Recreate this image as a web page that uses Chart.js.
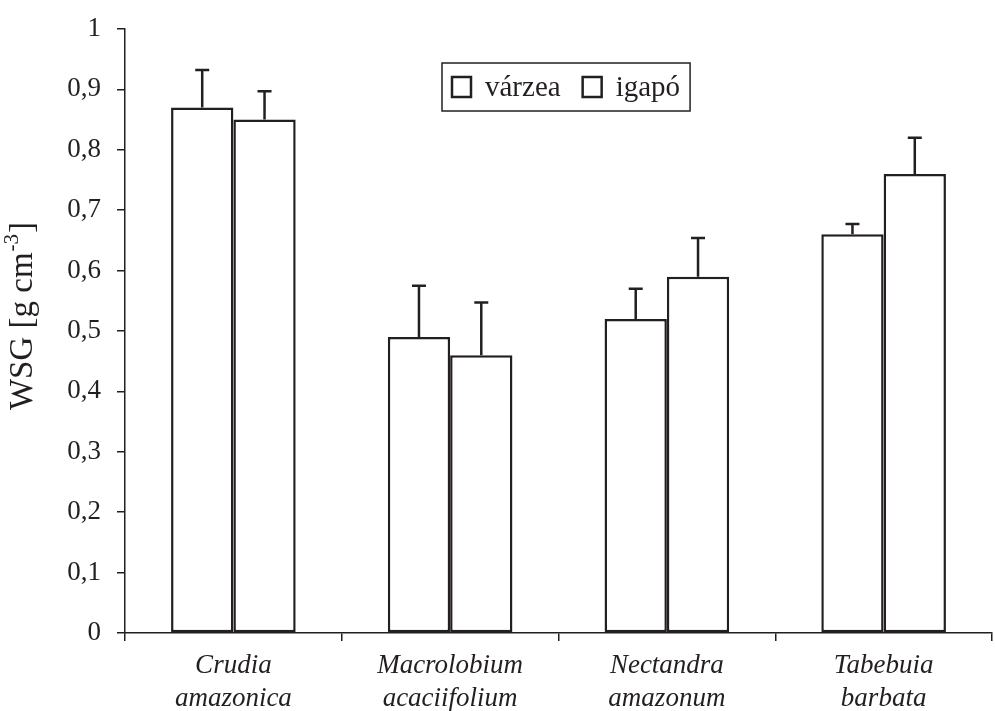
<!DOCTYPE html>
<html>
<head>
<meta charset="utf-8">
<script src="https://cdn.jsdelivr.net/npm/chart.js@4"></script>
<style>
  html, body { margin: 0; padding: 0; background: #fff; font-family: 'Liberation Serif', serif; }
  #wrap { width: 995px; height: 711px; position: relative; }
</style>
</head>
<body>
<div id="wrap"><canvas id="chart"></canvas></div>
<script>
// Data
const species = [['Crudia', 'amazonica'], ['Macrolobium', 'acaciifolium'], ['Nectandra', 'amazonum'], ['Tabebuia', 'barbata']];
const seriesNames = ['várzea', 'igapó'];
const varzeaWSG = [0.87, 0.49, 0.52, 0.66];
const varzeaErr = [0.062, 0.085, 0.05, 0.017];
const igapoWSG = [0.85, 0.46, 0.59, 0.76];
const igapoErr = [0.047, 0.087, 0.064, 0.06];
const yTicks = ['0', '0,1', '0,2', '0,3', '0,4', '0,5', '0,6', '0,7', '0,8', '0,9', '1'];

const INK = '#231f20';
const SERIF = "'Liberation Serif', serif";

// upper error bars only, drawn through the y scale
const errorBars = {
    id: 'errorBars',
    afterDatasetsDraw(chart) {
        const ctx = chart.ctx;
        const y = chart.scales.y;
        ctx.save();
        ctx.strokeStyle = INK;
        ctx.lineWidth = 2.5;
        chart.data.datasets.forEach((ds, i) => {
            chart.getDatasetMeta(i).data.forEach((bar, j) => {
                const yTop = y.getPixelForValue(ds.data[j] + ds.errors[j]);
                ctx.beginPath();
                ctx.moveTo(bar.x, bar.y);
                ctx.lineTo(bar.x, yTop);
                ctx.moveTo(bar.x - 7, yTop);
                ctx.lineTo(bar.x + 7, yTop);
                ctx.stroke();
            });
        });
        ctx.restore();
    }
};

// boxed legend + rotated y title with superscript
const extras = {
    id: 'extras',
    afterDraw(chart) {
        const ctx = chart.ctx;
        const area = chart.chartArea;
        ctx.save();

        // legend
        ctx.font = '29px ' + SERIF;
        ctx.textBaseline = 'middle';
        const lx = area.left + 317, ly = area.top + 34, lh = 48;
        let x = lx + 10;
        const parts = [];
        seriesNames.forEach(name => {
            parts.push({ box: x, text: x + 33 });
            x += 33 + ctx.measureText(name).width + 22;
        });
        const lw = x - lx - 12;
        ctx.strokeStyle = INK;
        ctx.lineWidth = 1.5;
        ctx.strokeRect(lx, ly, lw, lh);
        ctx.fillStyle = INK;
        seriesNames.forEach((name, i) => {
            ctx.lineWidth = 2.5;
            ctx.strokeRect(parts[i].box, ly + 14, 19, 20);
            ctx.fillText(name, parts[i].text, ly + lh / 2 + 1);
        });

        // y axis title
        ctx.translate(23, 317);
        ctx.rotate(-Math.PI / 2);
        ctx.textBaseline = 'middle';
        const main = 'WSG [g cm', sup = '-3', end = ']';
        ctx.font = '33px ' + SERIF;
        const w1 = ctx.measureText(main).width;
        const w3 = ctx.measureText(end).width;
        ctx.font = '21px ' + SERIF;
        const w2 = ctx.measureText(sup).width;
        const sx = -(w1 + w2 + w3) / 2;
        ctx.font = '33px ' + SERIF;
        ctx.fillText(main, sx, 0);
        ctx.font = '21px ' + SERIF;
        ctx.fillText(sup, sx + w1 + 1, -11);
        ctx.font = '33px ' + SERIF;
        ctx.fillText(end, sx + w1 + w2 + 2, 0);
        ctx.restore();
    }
};

function drawChart() {
    new Chart(document.getElementById('chart'), {
        type: 'bar',
        data: {
            labels: species,
            datasets: [
                { label: seriesNames[0], data: varzeaWSG, errors: varzeaErr },
                { label: seriesNames[1], data: igapoWSG, errors: igapoErr }
            ].map(ds => Object.assign(ds, {
                backgroundColor: '#fff',
                borderColor: INK,
                borderWidth: 2.5,
                borderSkipped: false,
                categoryPercentage: 0.575,
                barPercentage: 1.0
            }))
        },
        options: {
            responsive: true,
            maintainAspectRatio: false,
            animation: false,
            layout: { padding: { top: 29, right: 3, left: 0, bottom: 0 } },
            plugins: {
                legend: { display: false },
                tooltip: { enabled: false }
            },
            scales: {
                x: {
                    border: { color: INK, width: 1.5 },
                    grid: { display: true, drawOnChartArea: false, offset: true, color: INK, lineWidth: 1.5, tickLength: 8 },
                    ticks: {
                        color: INK,
                        padding: 9,
                        font: { family: SERIF, size: 27, style: 'italic', lineHeight: 1.2 },
                        maxRotation: 0
                    },
                    afterFit(scale) { scale.height = 78; }
                },
                y: {
                    min: 0,
                    max: 1,
                    border: { color: INK, width: 1.5 },
                    grid: { display: true, drawOnChartArea: false, color: INK, lineWidth: 1.5, tickLength: 8 },
                    ticks: {
                        stepSize: 0.1,
                        color: INK,
                        padding: 16,
                        font: { family: SERIF, size: 27 },
                        callback: (v, i) => yTicks[i]
                    },
                    afterFit(scale) {
                        scale.width = 125;
                        scale.paddingTop = 0;
                        scale.paddingBottom = 0;
                    }
                }
            }
        },
        plugins: [errorBars, extras]
    });
}

Promise.all([
    document.fonts.load("27px 'Liberation Serif'"),
    document.fonts.load("italic 27px 'Liberation Serif'")
]).then(drawChart, drawChart);
</script>
</body>
</html>
